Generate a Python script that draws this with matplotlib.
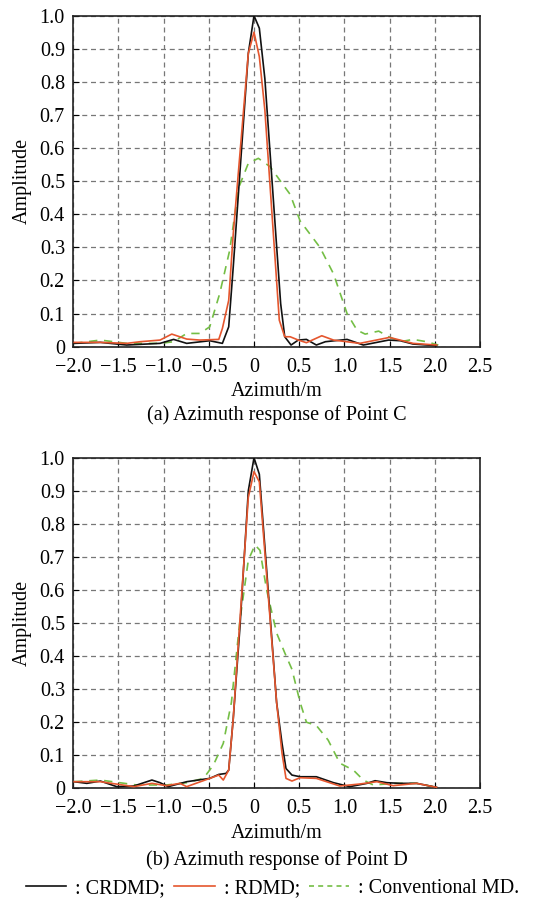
import matplotlib
matplotlib.use("Agg")
import matplotlib.pyplot as plt
from matplotlib.lines import Line2D

plt.rcParams['font.family'] = ['Liberation Serif', 'DejaVu Serif']
plt.rcParams['font.size'] = 14.5
plt.rcParams['axes.unicode_minus'] = True

# ---- (a) Point C ----
a_crdmd_x = [-1.99, -1.70, -1.41, -1.04, -0.89, -0.745, -0.49, -0.35, -0.28, -0.23, -0.063, 0.0, 0.059, 0.12,
             0.295, 0.34, 0.41, 0.49, 0.58, 0.69, 0.79, 1.03, 1.21, 1.49, 1.62, 1.76, 2.02]
a_crdmd_y = [0.010, 0.013, 0.005, 0.010, 0.022, 0.010, 0.018, 0.010, 0.060, 0.240, 0.886, 1.000, 0.962, 0.810,
             0.130, 0.030, 0.005, 0.020, 0.022, 0.005, 0.015, 0.022, 0.005, 0.020, 0.018, 0.008, 0.003]

a_rdmd_x = [-1.99, -1.70, -1.41, -1.26, -1.04, -0.91, -0.745, -0.60, -0.39, -0.35, -0.28, -0.23, -0.063, 0.0,
            0.059, 0.12, 0.28, 0.34, 0.40, 0.49, 0.58, 0.75, 0.88, 1.17, 1.50, 1.76, 2.02]
a_rdmd_y = [0.013, 0.013, 0.010, 0.015, 0.020, 0.038, 0.023, 0.020, 0.022, 0.055, 0.140, 0.340, 0.886, 0.950,
            0.876, 0.715, 0.080, 0.030, 0.030, 0.020, 0.012, 0.033, 0.020, 0.010, 0.028, 0.010, 0.005]

a_conv_x = [-1.99, -1.70, -1.41, -1.04, -0.89, -0.745, -0.60, -0.49, -0.38, -0.27, -0.17, -0.063, 0.048,
            0.177, 0.32, 0.40, 0.51, 0.62, 0.73, 0.88, 1.03, 1.14, 1.23, 1.38, 1.49, 1.62, 1.76, 1.91, 2.04]
a_conv_y = [0.010, 0.020, 0.010, 0.010, 0.015, 0.040, 0.040, 0.060, 0.160, 0.290, 0.480, 0.554, 0.569,
            0.544, 0.490, 0.460, 0.380, 0.340, 0.300, 0.220, 0.100, 0.050, 0.038, 0.047, 0.030, 0.015, 0.022, 0.015, 0.005]

# ---- (b) Point D ----
b_crdmd_x = [-1.99, -1.85, -1.70, -1.52, -1.33, -1.13, -1.04, -0.95, -0.745, -0.49, -0.39, -0.31, -0.28, -0.23,
             -0.155, -0.063, 0.0, 0.059, 0.14, 0.25, 0.31, 0.354, 0.42, 0.51, 0.69, 0.88, 1.06, 1.25, 1.34,
             1.47, 1.62, 1.80, 2.02]
b_crdmd_y = [0.020, 0.015, 0.022, 0.005, 0.007, 0.025, 0.017, 0.005, 0.020, 0.030, 0.042, 0.045, 0.055, 0.210,
             0.490, 0.900, 1.000, 0.950, 0.660, 0.260, 0.136, 0.060, 0.040, 0.035, 0.035, 0.017, 0.005, 0.015, 0.023,
             0.017, 0.015, 0.015, 0.003]

b_rdmd_x = [-1.99, -1.70, -1.33, -1.13, -0.97, -0.82, -0.745, -0.49, -0.39, -0.34, -0.28, -0.23, -0.063, 0.0,
            0.059, 0.25, 0.31, 0.354, 0.42, 0.51, 0.69, 0.95, 1.17, 1.36, 1.54, 1.80, 2.02]
b_rdmd_y = [0.020, 0.020, 0.005, 0.015, 0.008, 0.015, 0.005, 0.030, 0.040, 0.025, 0.055, 0.210, 0.880, 0.958,
            0.927, 0.260, 0.106, 0.030, 0.022, 0.032, 0.030, 0.007, 0.013, 0.020, 0.008, 0.015, 0.003]

b_conv_x = [-1.99, -1.70, -1.30, -0.97, -0.745, -0.56, -0.45, -0.34, -0.25, -0.155, -0.063, 0.011, 0.066,
            0.14, 0.25, 0.34, 0.42, 0.51, 0.58, 0.69, 0.82, 0.95, 1.10, 1.21, 1.32, 1.54, 1.80, 2.02]
b_conv_y = [0.020, 0.025, 0.010, 0.010, 0.017, 0.030, 0.070, 0.136, 0.260, 0.510, 0.690, 0.736, 0.720,
            0.600, 0.470, 0.410, 0.360, 0.260, 0.200, 0.190, 0.146, 0.076, 0.055, 0.025, 0.010, 0.015, 0.015, 0.003]

x_ticks = [-2.0, -1.5, -1.0, -0.5, 0.0, 0.5, 1.0, 1.5, 2.0, 2.5]
x_tick_labels = ['\u22122.0', '\u22121.5', '\u22121.0', '\u22120.5', '0', '0.5', '1.0', '1.5', '2.0', '2.5']
y_ticks = [0.0, 0.1, 0.2, 0.3, 0.4, 0.5, 0.6, 0.7, 0.8, 0.9, 1.0]
y_tick_labels = ['0', '0.1', '0.2', '0.3', '0.4', '0.5', '0.6', '0.7', '0.8', '0.9', '1.0']

C_BLACK = '#111111'
C_RED = '#E5562E'
C_GREEN = '#74BE45'

fig = plt.figure(figsize=(5.35, 9.0), dpi=100)

def setup(ax):
    ax.set_xlim(-2.0, 2.5)
    ax.set_ylim(0, 1.0)
    ax.set_xticks(x_ticks)
    ax.set_xticklabels(x_tick_labels)
    ax.set_yticks(y_ticks)
    ax.set_yticklabels(y_tick_labels)
    ax.grid(True, color='#777777', linestyle=(0, (4, 3)), linewidth=0.9)
    ax.tick_params(direction='in', length=4, width=0.8)
    ax.tick_params(axis='x', pad=8)
    ax.tick_params(axis='y', pad=6)
    for s in ax.spines.values():
        s.set_linewidth(1.2)
        s.set_color('#222222')
    ax.set_ylabel('Amplitude', labelpad=6)

ax1 = fig.add_axes([0.137, 0.6148, 0.760, 0.3678])
setup(ax1)
ax1.plot(a_crdmd_x, a_crdmd_y, color=C_BLACK, lw=1.2, zorder=4)
ax1.plot(a_rdmd_x, a_rdmd_y, color=C_RED, lw=1.2, zorder=5)
ax1.plot(a_conv_x, a_conv_y, color=C_GREEN, lw=1.2, ls=(0, (5, 4)), zorder=3)

ax2 = fig.add_axes([0.137, 0.1241, 0.760, 0.3673])
setup(ax2)
ax2.plot(b_crdmd_x, b_crdmd_y, color=C_BLACK, lw=1.2, zorder=4)
ax2.plot(b_rdmd_x, b_rdmd_y, color=C_RED, lw=1.2, zorder=5)
ax2.plot(b_conv_x, b_conv_y, color=C_GREEN, lw=1.2, ls=(0, (5, 4)), zorder=3)

fig.text(0.517, 0.565, 'Azimuth/m', ha='center', va='center')
fig.text(0.517, 0.539, '(a) Azimuth response of Point C', ha='center', va='center')
fig.text(0.517, 0.074, 'Azimuth/m', ha='center', va='center')
fig.text(0.517, 0.0444, '(b) Azimuth response of Point D', ha='center', va='center')

handles = [Line2D([], [], color=C_BLACK, lw=1.2),
           Line2D([], [], color=C_RED, lw=1.2),
           Line2D([], [], color=C_GREEN, lw=1.2, ls=(0, (3, 2.5)))]
labels = [': CRDMD;', ': RDMD;', ': Conventional MD.']
fig.legend(handles, labels, loc='center', bbox_to_anchor=(0.51, 0.0125), ncol=3, frameon=False,
           handlelength=2.0, handletextpad=0.45, columnspacing=0.45, borderaxespad=0, borderpad=0)

fig.savefig('out.png', dpi=100)
